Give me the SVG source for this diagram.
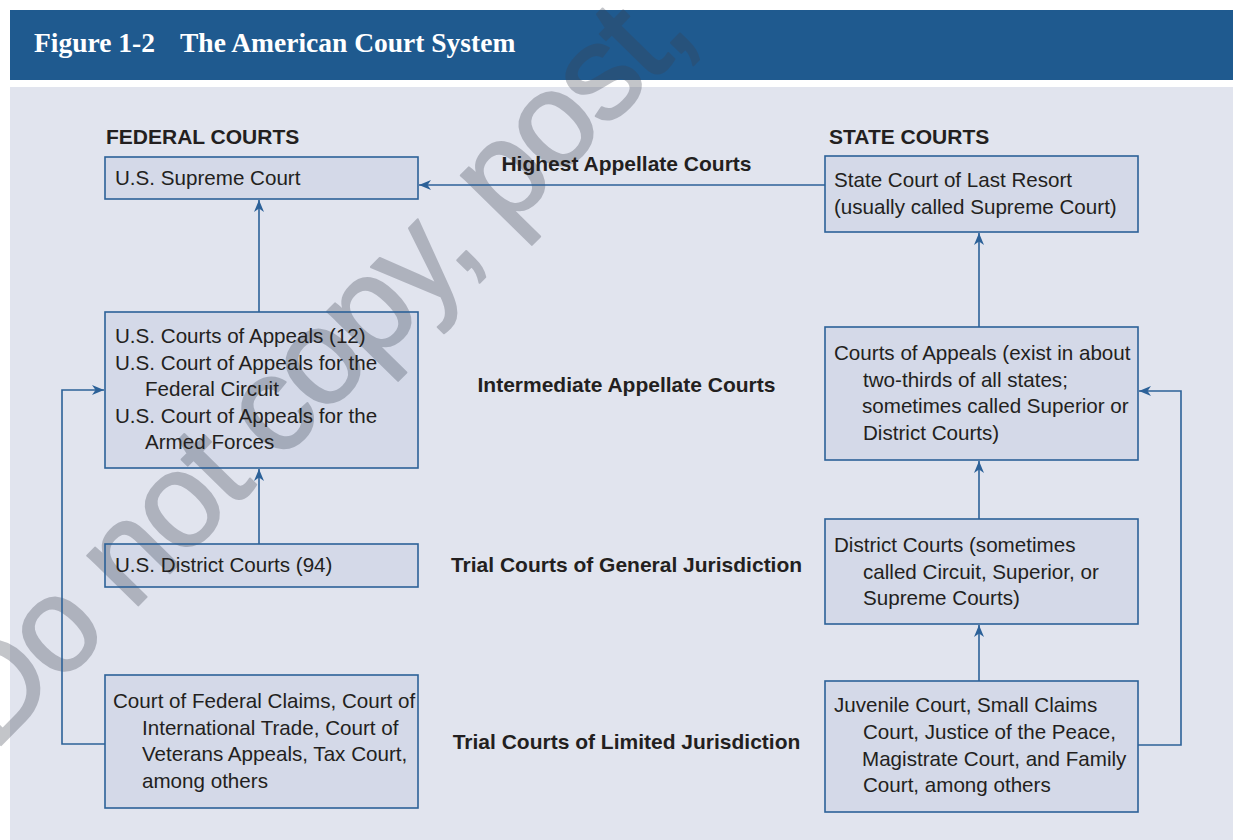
<svg xmlns="http://www.w3.org/2000/svg" width="1233" height="840" viewBox="0 0 1233 840">
<style>
.box{fill:#2e5c9e;fill-opacity:0.07;stroke:#2c6198;stroke-width:1.6}
.t{font-family:"Liberation Sans",Arial,sans-serif;font-size:20.6px;fill:#231f20}
.b{font-family:"Liberation Sans",Arial,sans-serif;font-size:21px;font-weight:bold;fill:#231f20}
.lvl{text-anchor:middle}
.c{fill:none;stroke:#2c6198;stroke-width:1.6;marker-end:url(#ah)}
.title{font-family:"Liberation Serif","Times New Roman",serif;font-size:27.5px;font-weight:bold;fill:#ffffff}
.wm{font-family:"Liberation Sans",Arial,sans-serif;font-size:135px;letter-spacing:-4.2px;fill:#3c4150;stroke:#3c4150;stroke-width:2;stroke-linejoin:round}
</style>
<defs>
<marker id="ah" markerWidth="12" markerHeight="10" refX="12" refY="5" orient="auto" markerUnits="userSpaceOnUse">
<path d="M0,0 L12,5 L0,10 L3.5,5 Z" fill="#2c6198"/>
</marker>
</defs>
<rect x="0" y="0" width="1233" height="840" fill="#ffffff"/>
<rect x="10" y="10" width="1223" height="70" fill="#1f5a8f"/>
<rect x="10" y="87" width="1223" height="753" fill="#e1e4ee"/>
<text class="title" x="34" y="52">Figure 1-2</text>
<text class="title" x="180" y="52">The American Court System</text>

<g id="watermark" opacity="0.3">
<text class="wm" transform="translate(-6.7,752.9) rotate(-45.5)">Do not copy, post,</text>
</g>

<g id="connectors">
<line class="c" x1="259" y1="312" x2="259" y2="200"/>
<line class="c" x1="259" y1="544" x2="259" y2="469"/>
<polyline class="c" points="105,744 62,744 62,390 104,390"/>
<line class="c" x1="825" y1="185" x2="419" y2="185"/>
<line class="c" x1="979" y1="327" x2="979" y2="233"/>
<line class="c" x1="979" y1="519" x2="979" y2="461"/>
<line class="c" x1="979" y1="681" x2="979" y2="625"/>
<polyline class="c" points="1138,745 1181,745 1181,391 1139,391"/>
</g>

<g id="headings">
<text class="b" x="106" y="144">FEDERAL COURTS</text>
<text class="b" x="829" y="144">STATE COURTS</text>
</g>

<g id="levels">
<text class="b lvl" x="626.5" y="171">Highest Appellate Courts</text>
<text class="b lvl" x="626.5" y="392">Intermediate Appellate Courts</text>
<text class="b lvl" x="626.5" y="572">Trial Courts of General Jurisdiction</text>
<text class="b lvl" x="626.5" y="749">Trial Courts of Limited Jurisdiction</text>
</g>

<g id="us-supreme">
<rect class="box" x="105" y="157" width="313" height="42"/>
<text class="t" x="115" y="185">U.S. Supreme Court</text>
</g>
<g id="us-appeals">
<rect class="box" x="105" y="312" width="313" height="156"/>
<text class="t" x="115" y="343">U.S. Courts of Appeals (12)</text>
<text class="t" x="115" y="369.5">U.S. Court of Appeals for the</text>
<text class="t" x="145" y="396">Federal Circuit</text>
<text class="t" x="115" y="422.5">U.S. Court of Appeals for the</text>
<text class="t" x="145" y="449">Armed Forces</text>
</g>
<g id="us-district">
<rect class="box" x="105" y="544" width="313" height="43"/>
<text class="t" x="115" y="572">U.S. District Courts (94)</text>
</g>
<g id="us-limited">
<rect class="box" x="105" y="675" width="313" height="133"/>
<text class="t" x="113" y="708">Court of Federal Claims, Court of</text>
<text class="t" x="142" y="734.5">International Trade, Court of</text>
<text class="t" x="142" y="761">Veterans Appeals, Tax Court,</text>
<text class="t" x="142" y="787.5">among others</text>
</g>

<g id="state-last-resort">
<rect class="box" x="825" y="156" width="313" height="76"/>
<text class="t" x="834" y="187">State Court of Last Resort</text>
<text class="t" x="834" y="213.5">(usually called Supreme Court)</text>
</g>
<g id="state-appeals">
<rect class="box" x="825" y="327" width="313" height="133"/>
<text class="t" x="834" y="360">Courts of Appeals (exist in about</text>
<text class="t" x="863" y="386.5">two-thirds of all states;</text>
<text class="t" x="862" y="413">sometimes called Superior or</text>
<text class="t" x="863" y="439.5">District Courts)</text>
</g>
<g id="state-district">
<rect class="box" x="825" y="519" width="313" height="105"/>
<text class="t" x="834" y="552">District Courts (sometimes</text>
<text class="t" x="863" y="578.5">called Circuit, Superior, or</text>
<text class="t" x="863" y="605">Supreme Courts)</text>
</g>
<g id="state-limited">
<rect class="box" x="825" y="681" width="313" height="131"/>
<text class="t" x="834" y="712">Juvenile Court, Small Claims</text>
<text class="t" x="863" y="739">Court, Justice of the Peace,</text>
<text class="t" x="862" y="765.5">Magistrate Court, and Family</text>
<text class="t" x="863" y="792">Court, among others</text>
</g>
</svg>
